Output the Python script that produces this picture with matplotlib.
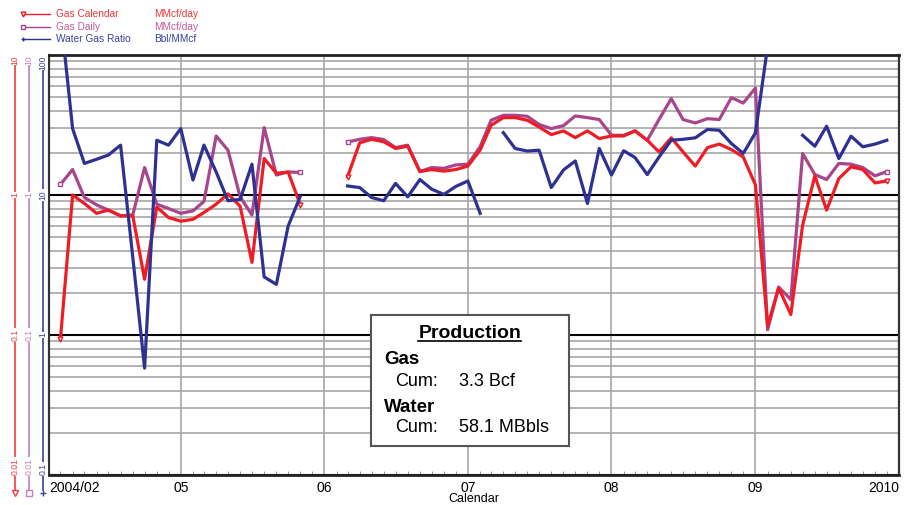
import numpy as np
import pandas as pd
import matplotlib
matplotlib.use('Agg')
import matplotlib.pyplot as plt
import matplotlib.dates as mdates
from matplotlib.lines import Line2D
from matplotlib.patches import Rectangle
from matplotlib.ticker import LogLocator, NullFormatter

plt.rcParams['font.family'] = ['Liberation Sans', 'DejaVu Sans']

nan = np.nan

# monthly production, Mar 2004 .. Dec 2009
months = pd.date_range('2004-03-01', '2009-12-01', freq='MS')

gas_calendar = [0.093, 1.0, 0.87, 0.74, 0.78, 0.71, 0.71, 0.25, 0.82, 0.69, 0.65,
                0.67, 0.75, 0.86, 1.02, 0.83, 0.33, 1.82, 1.43, 1.46, 0.85,
                nan, nan, nan,
                1.35, 2.36, 2.50, 2.40, 2.15, 2.23, 1.47, 1.52, 1.48, 1.52, 1.61, 2.09,
                3.15, 3.57, 3.57, 3.42, 3.06, 2.70, 2.87, 2.57, 2.87, 2.53, 2.64, 2.64,
                2.87, 2.46, 2.03, 2.56, 2.03, 1.61, 2.18, 2.31, 2.11, 1.87, 1.18,
                0.116, 0.217, 0.140, 0.61, 1.37, 0.78, 1.31, 1.59, 1.52, 1.22, 1.26]

gas_daily = [1.19, 1.52, 0.96, 0.85, 0.78, 0.71, 0.72, 1.57, 0.86, 0.80, 0.74,
             0.77, 0.90, 2.64, 2.09, 0.97, 0.72, 3.03, 1.39, 1.46, 1.45,
             nan, nan, nan,
             2.39, 2.50, 2.57, 2.49, 2.18, 2.27, 1.47, 1.57, 1.55, 1.64, 1.66, 2.21,
             3.42, 3.71, 3.71, 3.65, 3.19, 2.98, 3.13, 3.67, 3.57, 3.46, 2.67, 2.67,
             2.87, 2.46, 3.47, 4.88, 3.46, 3.27, 3.51, 3.46, 4.96, 4.54, 5.80,
             0.109, 0.220, 0.179, 1.98, 1.40, 1.29, 1.68, 1.66, 1.57, 1.37, 1.47]

water_gas_ratio = [200, 29.8, 16.8, 18.0, 19.3, 22.7, 3.6, 0.58, 24.6, 22.7, 29.8,
                   12.8, 22.7, 14.6, 9.1, 9.3, 16.6, 2.6, 2.3, 6.0, 9.8,
                   nan, nan, nan,
                   11.6, 11.3, 9.6, 9.1, 12.1, 9.7, 12.9, 11.0, 10.1, 11.5, 12.6, 7.4,
                   nan, 27.9, 21.5, 20.6, 20.9, 11.3, 15.1, 17.5, 8.7, 21.5, 13.9, 20.7,
                   18.5, 14.0, 18.7, 24.6, 25.0, 25.6, 29.4, 29.0, 23.3, 19.8, 27.8,
                   115, nan, nan, 26.7, 22.3, 31.0, 18.2, 26.3, 22.1, 23.1, 24.6]

tick_dates = pd.to_datetime(['2004-02-01', '2005-01-01', '2006-01-01', '2007-01-01',
                             '2008-01-01', '2009-01-01', '2010-01-01'])
tick_labels = ['2004/02', '05', '06', '07', '08', '09', '2010']

cum_gas = '3.3 Bcf'
cum_water = '58.1 MBbls'

RED = '#ee1d25'
PINK = '#a8458b'
BLUE = '#2e3192'

W, H = 908, 505
fig = plt.figure(figsize=(W / 100, H / 100), dpi=100)

L, R, T, B = 49, 899, 55, 475
ax = fig.add_axes([L / W, 1 - B / H, (R - L) / W, (B - T) / H])
ax.set_yscale('log')
ax.set_ylim(0.01, 10)
ax.set_xlim(tick_dates[0], tick_dates[-1])

# grid: light minor lines, black decade lines, gray year lines
ax.yaxis.set_minor_locator(LogLocator(base=10, subs=np.arange(2, 10)))
ax.yaxis.set_minor_formatter(NullFormatter())
ax.grid(which='minor', axis='y', color='#a6a6a6', lw=1.2)
ax.grid(which='major', axis='y', color='black', lw=1.5)
ax.grid(which='major', axis='x', color='#b3b3b3', lw=1.4)
ax.set_axisbelow(True)
ax.tick_params(axis='y', which='both', length=0, labelleft=False)

ax.set_xticks(tick_dates)
ax.set_xticklabels(tick_labels, fontsize=10)
ax.xaxis.set_minor_locator(mdates.MonthLocator())
ax.tick_params(axis='x', which='major', length=0, pad=4)
ax.tick_params(axis='x', which='minor', direction='in', length=3, color='#888888')
labs = ax.get_xticklabels()
labs[0].set_ha('left')
labs[-1].set_ha('right')
ax.set_xlabel('Calendar', fontsize=9, labelpad=-1)

for s in ['top', 'bottom']:
    ax.spines[s].set_linewidth(2)
    ax.spines[s].set_color('#222222')
for s in ['left', 'right']:
    ax.spines[s].set_linewidth(1.6)
    ax.spines[s].set_color('#333333')

# segment end points get a marker
def seg_ends(vals):
    v = np.isfinite(np.array(vals, dtype=float))
    idx = []
    for i in range(len(v)):
        if v[i] and (i == 0 or not v[i - 1] or i == len(v) - 1 or not v[i + 1]):
            idx.append(i)
    return idx

ax.plot(months, gas_daily, color=PINK, lw=2.3, marker='s', ms=3.5, mfc='white',
        mew=1, markevery=seg_ends(gas_daily))
ax.plot(months, gas_calendar, color=RED, lw=2.3, marker='v', ms=3.5, mfc='white',
        mew=1, markevery=seg_ends(gas_calendar))

ax2 = ax.twinx()
ax2.set_yscale('log')
ax2.set_ylim(0.1, 100)
ax2.axis('off')
ax2.plot(months, water_gas_ratio, color=BLUE, lw=2.3)

# scale bars on the left, one per curve
side = [(15, '#ee3b40', (0.01, 10), ['0.01', '0.1', '1', '10'], 'v'),
        (29, '#c77fb3', (0.01, 10), ['0.01', '0.1', '1', '10'], 's'),
        (43, '#3b4199', (0.1, 100), ['0.1', '1', '10', '100'], '+')]
bot_px = 490
for x_px, col, (lo, hi), labels, mk in side:
    sa = fig.add_axes([x_px / W, 1 - bot_px / H, 0.0005, (bot_px - T) / H])
    sa.set_yscale('log')
    sa.set_ylim(lo * 10 ** (-(bot_px - B) / 140), hi)
    sa.set_xlim(0, 1)
    sa.patch.set_visible(False)
    for s in ['top', 'bottom', 'right']:
        sa.spines[s].set_visible(False)
    sa.spines['left'].set_color(col)
    sa.spines['left'].set_linewidth(1.2)
    decades = [lo * 10 ** k for k in range(4)]
    sa.set_yticks(decades)
    sa.yaxis.set_minor_locator(plt.NullLocator())
    sa.tick_params(axis='y', direction='inout', length=5, color=col, labelleft=False)
    sa.set_xticks([])
    for i, (v, lab) in enumerate(zip(decades, labels)):
        va = 'bottom' if i == 0 else ('top' if i == 3 else 'center')
        sa.text(0, v, lab, rotation=90, ha='center', va=va, fontsize=6.2, color=col,
                bbox=dict(fc='white', ec='none', pad=0.6))
    sa.plot([0], [lo * 10 ** (-(bot_px + 3 - B) / 140)], marker=mk, color=col,
            mfc='white', ms=4, mew=1, clip_on=False)

# legend
legend_rows = [('Gas Calendar', 'MMcf/day', RED, '#e8383d', 'v', 14),
               ('Gas Daily', 'MMcf/day', PINK, '#c05996', 's', 27),
               ('Water Gas Ratio', 'Bbl/MMcf', BLUE, '#3a4397', '+', 39)]
for name, unit, col, tcol, mk, y in legend_rows:
    yf = 1 - y / H
    fig.add_artist(Line2D([23 / W, 50 / W], [yf, yf], color=col, lw=1))
    fig.add_artist(Line2D([23 / W], [yf], marker=mk, color=col, mfc='white',
                          ms=3.5, mew=1, lw=0))
    fig.text(56 / W, yf, name, color=tcol, fontsize=7.3, va='center')
    fig.text(154 / W, yf, unit, color=tcol, fontsize=7.3, va='center')

# production summary box
bx0, by0, bx1, by1 = 371, 315, 569, 446
fig.add_artist(Rectangle((bx0 / W, 1 - by1 / H), (bx1 - bx0) / W, (by1 - by0) / H,
                         transform=fig.transFigure, fc='white', ec='#555555', lw=1.5))
fig.text(470 / W, 1 - 333 / H, 'Production', fontsize=14, fontweight='bold',
         ha='center', va='center')
fig.add_artist(Line2D([418 / W, 521 / W], [1 - 341 / H, 1 - 341 / H], color='black', lw=1.2))
fig.text(384 / W, 1 - 360 / H, 'Gas', fontsize=13.5, fontweight='bold', va='center')
fig.text(395 / W, 1 - 381 / H, 'Cum:', fontsize=13, va='center')
fig.text(459 / W, 1 - 381 / H, cum_gas, fontsize=13, va='center')
fig.text(384 / W, 1 - 407 / H, 'Water', fontsize=13.5, fontweight='bold', va='center')
fig.text(395 / W, 1 - 428 / H, 'Cum:', fontsize=13, va='center')
fig.text(459 / W, 1 - 428 / H, cum_water, fontsize=13, va='center')

fig.savefig('out.png', dpi=100)
